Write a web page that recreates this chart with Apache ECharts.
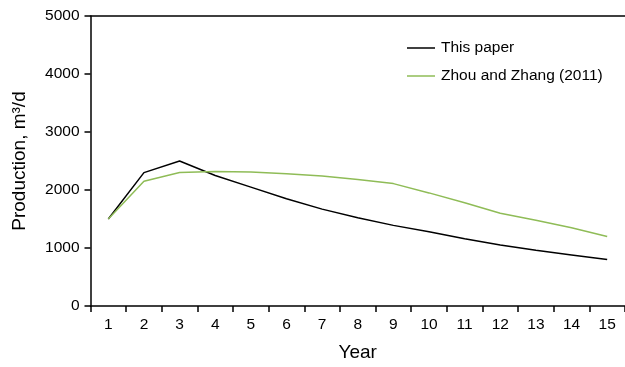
<!DOCTYPE html>
<html>
<head>
<meta charset="utf-8">
<script src="https://cdn.jsdelivr.net/npm/echarts@6/dist/echarts.min.js"></script>
<style>html,body{margin:0;padding:0;background:#fff}#c{width:625px;height:367px}</style>
</head>
<body>
<div id="c"></div>
<script>
const years = ['1','2','3','4','5','6','7','8','9','10','11','12','13','14','15'];
const thisPaper = [1500, 2300, 2500, 2250, 2050, 1850, 1670, 1520, 1390, 1280, 1160, 1050, 960, 880, 800];
const zhouZhang = [1500, 2150, 2300, 2320, 2310, 2280, 2240, 2180, 2110, 1950, 1780, 1600, 1480, 1350, 1200];
const yTicks = { min: 0, max: 5000, interval: 1000 };

const font = 'Liberation Sans, Arial, sans-serif';
const chart = echarts.init(document.getElementById('c'), null, { renderer: 'canvas' });
chart.setOption({
  animation: false,
  backgroundColor: '#fff',
  grid: { left: 90.5, right: -2.7, top: 16, bottom: 60, containLabel: false },
  legend: {
    orient: 'vertical',
    left: 402, top: 35,
    itemWidth: 28, itemHeight: 18, itemGap: 12,
    icon: 'path://M0,8 L28,8 L28,9.5 L0,9.5 Z',
    textStyle: { fontFamily: font, fontSize: 15.5, color: '#000', padding: [0, 0, 0, 1] },
    data: [
      { name: 'This paper', itemStyle: { color: '#000' } },
      { name: 'Zhou and Zhang (2011)', itemStyle: { color: '#8fbc57' } }
    ]
  },
  xAxis: [{
    type: 'category', data: years, boundaryGap: true,
    name: 'Year', nameLocation: 'middle', nameGap: 37,
    nameTextStyle: { fontFamily: font, fontSize: 19, color: '#000' },
    axisLine: { lineStyle: { color: '#000', width: 1.5 } },
    axisTick: { show: true, alignWithLabel: false, length: 6, inside: false, lineStyle: { color: '#000', width: 1.5 } },
    axisLabel: { fontFamily: font, fontSize: 15.5, color: '#000', margin: 11 },
    splitLine: { show: false }
  }, {
    type: 'category', data: years, position: 'top',
    axisLine: { lineStyle: { color: '#000', width: 1.5 } },
    axisTick: { show: false }, axisLabel: { show: false }, splitLine: { show: false }
  }],
  yAxis: {
    type: 'value', min: yTicks.min, max: yTicks.max, interval: yTicks.interval,
    name: 'Production, m³/d', nameLocation: 'middle', nameGap: 61,
    nameTextStyle: { fontFamily: font, fontSize: 19, color: '#000' },
    axisLine: { show: true, lineStyle: { color: '#000', width: 1.5 } },
    axisTick: { show: true, length: 6, lineStyle: { color: '#000', width: 1.5 } },
    axisLabel: { fontFamily: font, fontSize: 15.5, color: '#000', margin: 11, formatter: v => String(v) },
    splitLine: { show: false }
  },
  series: [
    { name: 'This paper', type: 'line', data: thisPaper, showSymbol: false, symbol: 'none',
      lineStyle: { color: '#000', width: 1.5 }, itemStyle: { color: '#000' } },
    { name: 'Zhou and Zhang (2011)', type: 'line', data: zhouZhang, showSymbol: false, symbol: 'none',
      lineStyle: { color: '#8fbc57', width: 1.5 }, itemStyle: { color: '#8fbc57' } }
  ]
});
</script>
</body>
</html>
